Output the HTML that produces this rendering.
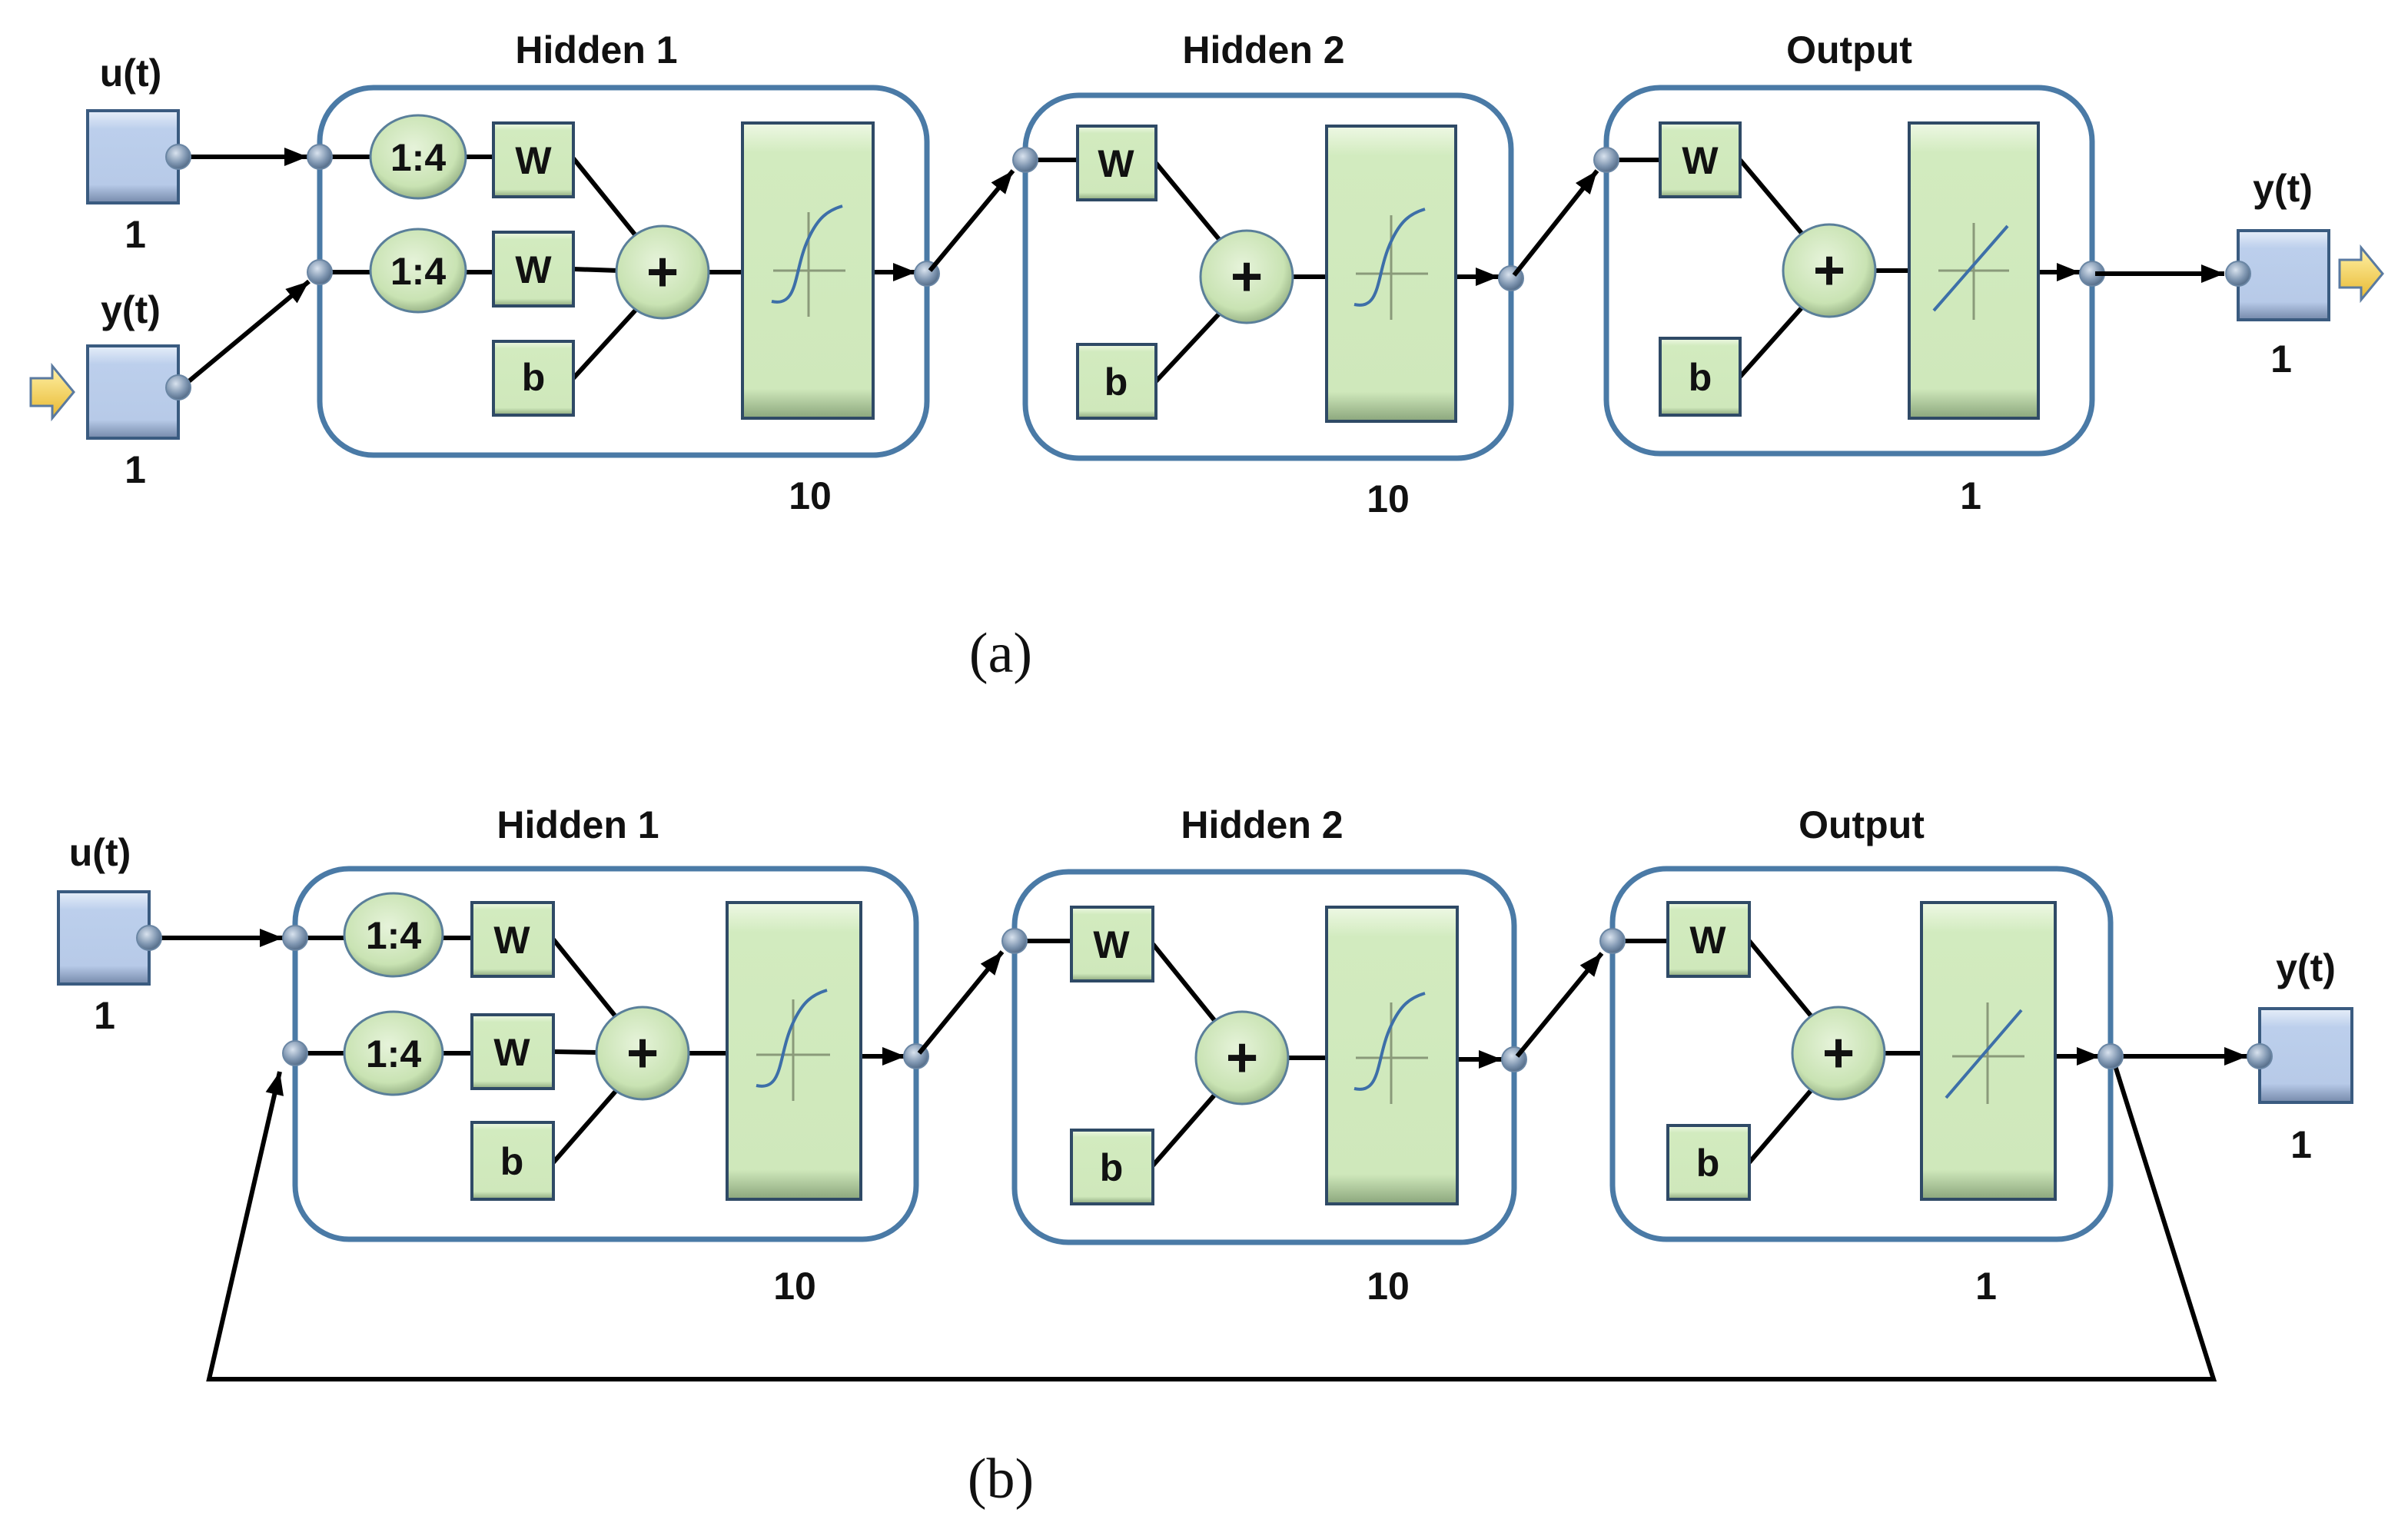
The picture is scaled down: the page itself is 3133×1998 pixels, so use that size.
<!DOCTYPE html>
<html><head><meta charset="utf-8"><style>
html,body{margin:0;padding:0;background:#fff;}
svg{display:block;}
text{font-family:"Liberation Sans",sans-serif;font-weight:bold;fill:#111;}
.lab{font-size:25px;text-anchor:middle;}
.in{font-size:25px;text-anchor:middle;}
.cap{font-family:"Liberation Serif",serif;font-weight:normal;font-size:37px;text-anchor:middle;}
.ln{stroke:#000;stroke-width:3;fill:none;}
.lnA{stroke:#000;stroke-width:3;fill:none;marker-end:url(#ar);}
.gb{fill:url(#gg);stroke:#2f4a66;stroke-width:2;}
.bb{fill:url(#bg);stroke:#3a5b80;stroke-width:2;}
.cont{fill:none;stroke:#4a7aa6;stroke-width:3.5;}
.dot{fill:url(#dg);stroke:#6a86a4;stroke-width:1;}
.ax{stroke:#8a9a7a;stroke-width:1.5;}
.cv{stroke:#3d6fa8;stroke-width:2;fill:none;}
</style></head><body>
<svg width="3133" height="1998" viewBox="0 0 1566.5 999" xmlns="http://www.w3.org/2000/svg">
<defs>
<linearGradient id="gg" x1="0" y1="0" x2="0" y2="1"><stop offset="0" stop-color="#eef8e4"/><stop offset="0.1" stop-color="#d2ebbf"/><stop offset="0.9" stop-color="#cfe8bb"/><stop offset="1" stop-color="#8ba67c"/></linearGradient>
<linearGradient id="bg" x1="0" y1="0" x2="0" y2="1"><stop offset="0" stop-color="#e6eef9"/><stop offset="0.2" stop-color="#bccfec"/><stop offset="0.8" stop-color="#b7cae8"/><stop offset="1" stop-color="#7589aa"/></linearGradient>
<radialGradient id="dg" cx="0.4" cy="0.35" r="0.7"><stop offset="0" stop-color="#d8e2ee"/><stop offset="0.6" stop-color="#7e95b0"/><stop offset="1" stop-color="#4c6480"/></radialGradient>
<radialGradient id="cg" cx="0.45" cy="0.4" r="0.65"><stop offset="0" stop-color="#e6f3da"/><stop offset="0.7" stop-color="#c9e3b3"/><stop offset="1" stop-color="#8aa57a"/></radialGradient>
<linearGradient id="yg" x1="0" y1="0" x2="0" y2="1"><stop offset="0" stop-color="#fff2a8"/><stop offset="1" stop-color="#e8b830"/></linearGradient>
<marker id="ar" markerWidth="5" markerHeight="4" refX="5" refY="2" orient="auto" markerUnits="strokeWidth"><path d="M0,0 L5,2 L0,4 Z" fill="#000"/></marker>
</defs>

<!-- ================= (a) ================= -->
<text class="lab" x="85" y="56">u(t)</text>
<rect class="bb" x="57" y="72" width="59" height="60"/>
<text class="in" x="88" y="161">1</text>
<text class="lab" x="85" y="210">y(t)</text>
<rect class="bb" x="57" y="225" width="59" height="60"/>
<text class="in" x="88" y="314">1</text>
<path d="M20,246 L34,246 L34,238 L48,255 L34,272 L34,264 L20,264 Z" fill="url(#yg)" stroke="#5a7aa0" stroke-width="1.5"/>
<line class="lnA" x1="116" y1="102" x2="200" y2="102"/>
<line class="lnA" x1="118" y1="252" x2="201" y2="183"/>
<circle class="dot" cx="116" cy="102" r="8"/>
<circle class="dot" cx="116" cy="252" r="8"/>

<text class="lab" x="388" y="41">Hidden 1</text>
<rect class="cont" x="208" y="57" width="395" height="239" rx="35"/>
<line class="ln" x1="208" y1="102" x2="321" y2="102"/>
<line class="ln" x1="208" y1="177" x2="321" y2="177"/>
<line class="ln" x1="373" y1="103" x2="415" y2="155"/>
<line class="ln" x1="373" y1="175" x2="431" y2="177"/>
<line class="ln" x1="373" y1="246" x2="415" y2="200"/>
<line class="ln" x1="431" y1="177" x2="483" y2="177"/>
<line class="lnA" x1="568" y1="177" x2="596" y2="177"/>
<ellipse cx="272" cy="102" rx="31" ry="27" fill="url(#cg)" stroke="#5a7f9a" stroke-width="1.5"/>
<ellipse cx="272" cy="176" rx="31" ry="27" fill="url(#cg)" stroke="#5a7f9a" stroke-width="1.5"/>
<text class="in" x="272" y="111">1:4</text><text class="in" x="272" y="185">1:4</text>
<rect class="gb" x="321" y="80" width="52" height="48"/><text class="in" x="347" y="113">W</text>
<rect class="gb" x="321" y="151" width="52" height="48"/><text class="in" x="347" y="184">W</text>
<rect class="gb" x="321" y="222" width="52" height="48"/><text class="in" x="347" y="254">b</text>
<circle cx="431" cy="177" r="30" fill="url(#cg)" stroke="#5a7f9a" stroke-width="1.5"/>
<text x="431" y="189" font-size="36" text-anchor="middle">+</text>
<rect class="gb" x="483" y="80" width="85" height="192"/>
<line class="ax" x1="503" y1="176" x2="550" y2="176"/><line class="ax" x1="526" y1="138" x2="526" y2="206"/>
<path class="cv" d="M502,196 C520,200 516,176 526,155 C532,142 538,137 548,134"/>
<circle class="dot" cx="208" cy="102" r="8"/><circle class="dot" cx="208" cy="177" r="8"/>
<circle class="dot" cx="603" cy="178" r="8"/>
<text class="in" x="527" y="331">10</text>

<line class="lnA" x1="605" y1="176" x2="659" y2="111"/>

<text class="lab" x="822" y="41">Hidden 2</text>
<rect class="cont" x="667" y="62" width="316" height="236" rx="35"/>
<line class="ln" x1="667" y1="104" x2="701" y2="104"/>
<line class="ln" x1="752" y1="106" x2="795" y2="158"/>
<line class="ln" x1="752" y1="248" x2="795" y2="202"/>
<line class="ln" x1="811" y1="180" x2="863" y2="180"/>
<line class="lnA" x1="947" y1="180" x2="975" y2="180"/>
<rect class="gb" x="701" y="82" width="51" height="48"/><text class="in" x="726" y="115">W</text>
<rect class="gb" x="701" y="224" width="51" height="48"/><text class="in" x="726" y="257">b</text>
<circle cx="811" cy="180" r="30" fill="url(#cg)" stroke="#5a7f9a" stroke-width="1.5"/>
<text x="811" y="192" font-size="36" text-anchor="middle">+</text>
<rect class="gb" x="863" y="82" width="84" height="192"/>
<line class="ax" x1="882" y1="178" x2="929" y2="178"/><line class="ax" x1="905" y1="140" x2="905" y2="208"/>
<path class="cv" d="M881,198 C899,202 895,178 905,157 C911,144 917,139 927,136"/>
<circle class="dot" cx="667" cy="104" r="8"/><circle class="dot" cx="983" cy="181" r="8"/>
<text class="in" x="903" y="333">10</text>

<line class="lnA" x1="985" y1="179" x2="1039" y2="111"/>

<text class="lab" x="1203" y="41">Output</text>
<rect class="cont" x="1045" y="57" width="316" height="238" rx="35"/>
<line class="ln" x1="1045" y1="104" x2="1080" y2="104"/>
<line class="ln" x1="1132" y1="104" x2="1174" y2="154"/>
<line class="ln" x1="1132" y1="245" x2="1174" y2="198"/>
<line class="ln" x1="1190" y1="176" x2="1242" y2="176"/>
<line class="lnA" x1="1326" y1="177" x2="1353" y2="177"/>
<rect class="gb" x="1080" y="80" width="52" height="48"/><text class="in" x="1106" y="113">W</text>
<rect class="gb" x="1080" y="220" width="52" height="50"/><text class="in" x="1106" y="254">b</text>
<circle cx="1190" cy="176" r="30" fill="url(#cg)" stroke="#5a7f9a" stroke-width="1.5"/>
<text x="1190" y="188" font-size="36" text-anchor="middle">+</text>
<rect class="gb" x="1242" y="80" width="84" height="192"/>
<line class="ax" x1="1261" y1="176" x2="1307" y2="176"/><line class="ax" x1="1284" y1="145" x2="1284" y2="208"/>
<line class="cv" x1="1258" y1="202" x2="1306" y2="147"/>
<circle class="dot" cx="1045" cy="104" r="8"/><circle class="dot" cx="1361" cy="178" r="8"/>
<text class="in" x="1282" y="331">1</text>

<line class="lnA" x1="1363" y1="178" x2="1447" y2="178"/>
<text class="lab" x="1485" y="131">y(t)</text>
<rect class="bb" x="1456" y="150" width="59" height="58"/>
<circle class="dot" cx="1456" cy="178" r="8"/>
<text class="in" x="1484" y="242">1</text>
<path d="M1522,169 L1536,169 L1536,161 L1550,178 L1536,195 L1536,187 L1522,187 Z" fill="url(#yg)" stroke="#5a7aa0" stroke-width="1.5"/>

<text class="cap" x="651" y="437">(a)</text>

<!-- ================= (b) ================= -->
<text class="lab" x="65" y="563">u(t)</text>
<rect class="bb" x="38" y="580" width="59" height="60"/>
<text class="in" x="68" y="669">1</text>
<line class="lnA" x1="97" y1="610" x2="184" y2="610"/>
<circle class="dot" cx="97" cy="610" r="8"/>

<text class="lab" x="376" y="545">Hidden 1</text>
<rect class="cont" x="192" y="565" width="404" height="241" rx="35"/>
<line class="ln" x1="192" y1="610" x2="307" y2="610"/>
<line class="ln" x1="192" y1="685" x2="307" y2="685"/>
<line class="ln" x1="360" y1="611" x2="402" y2="663"/>
<line class="ln" x1="360" y1="684" x2="418" y2="685"/>
<line class="ln" x1="360" y1="756" x2="402" y2="708"/>
<line class="ln" x1="418" y1="685" x2="473" y2="685"/>
<line class="lnA" x1="560" y1="687" x2="589" y2="687"/>
<ellipse cx="256" cy="608" rx="32" ry="27" fill="url(#cg)" stroke="#5a7f9a" stroke-width="1.5"/>
<ellipse cx="256" cy="685" rx="32" ry="27" fill="url(#cg)" stroke="#5a7f9a" stroke-width="1.5"/>
<text class="in" x="256" y="617">1:4</text><text class="in" x="256" y="694">1:4</text>
<rect class="gb" x="307" y="587" width="53" height="48"/><text class="in" x="333" y="620">W</text>
<rect class="gb" x="307" y="660" width="53" height="48"/><text class="in" x="333" y="693">W</text>
<rect class="gb" x="307" y="730" width="53" height="50"/><text class="in" x="333" y="764">b</text>
<circle cx="418" cy="685" r="30" fill="url(#cg)" stroke="#5a7f9a" stroke-width="1.5"/>
<text x="418" y="697" font-size="36" text-anchor="middle">+</text>
<rect class="gb" x="473" y="587" width="87" height="193"/>
<line class="ax" x1="492" y1="686" x2="540" y2="686"/><line class="ax" x1="516" y1="650" x2="516" y2="716"/>
<path class="cv" d="M492,706 C510,710 506,686 516,665 C522,652 528,647 538,644"/>
<circle class="dot" cx="192" cy="610" r="8"/><circle class="dot" cx="192" cy="685" r="8"/>
<circle class="dot" cx="596" cy="687" r="8"/>
<text class="in" x="517" y="845">10</text>

<line class="lnA" x1="598" y1="685" x2="652" y2="619"/>

<text class="lab" x="821" y="545">Hidden 2</text>
<rect class="cont" x="660" y="567" width="325" height="241" rx="35"/>
<line class="ln" x1="660" y1="612" x2="697" y2="612"/>
<line class="ln" x1="750" y1="614" x2="792" y2="666"/>
<line class="ln" x1="750" y1="758" x2="792" y2="710"/>
<line class="ln" x1="808" y1="688" x2="863" y2="688"/>
<line class="lnA" x1="948" y1="689" x2="977" y2="689"/>
<rect class="gb" x="697" y="590" width="53" height="48"/><text class="in" x="723" y="623">W</text>
<rect class="gb" x="697" y="735" width="53" height="48"/><text class="in" x="723" y="768">b</text>
<circle cx="808" cy="688" r="30" fill="url(#cg)" stroke="#5a7f9a" stroke-width="1.5"/>
<text x="808" y="700" font-size="36" text-anchor="middle">+</text>
<rect class="gb" x="863" y="590" width="85" height="193"/>
<line class="ax" x1="882" y1="688" x2="929" y2="688"/><line class="ax" x1="905" y1="652" x2="905" y2="718"/>
<path class="cv" d="M881,708 C899,712 895,688 905,667 C911,654 917,649 927,646"/>
<circle class="dot" cx="660" cy="612" r="8"/><circle class="dot" cx="985" cy="689" r="8"/>
<text class="in" x="903" y="845">10</text>

<line class="lnA" x1="987" y1="687" x2="1042" y2="620"/>

<text class="lab" x="1211" y="545">Output</text>
<rect class="cont" x="1049" y="565" width="324" height="241" rx="35"/>
<line class="ln" x1="1049" y1="612" x2="1085" y2="612"/>
<line class="ln" x1="1138" y1="612" x2="1180" y2="663"/>
<line class="ln" x1="1138" y1="756" x2="1180" y2="707"/>
<line class="ln" x1="1196" y1="685" x2="1250" y2="685"/>
<line class="lnA" x1="1337" y1="687" x2="1366" y2="687"/>
<rect class="gb" x="1085" y="587" width="53" height="48"/><text class="in" x="1111" y="620">W</text>
<rect class="gb" x="1085" y="732" width="53" height="48"/><text class="in" x="1111" y="765">b</text>
<circle cx="1196" cy="685" r="30" fill="url(#cg)" stroke="#5a7f9a" stroke-width="1.5"/>
<text x="1196" y="697" font-size="36" text-anchor="middle">+</text>
<rect class="gb" x="1250" y="587" width="87" height="193"/>
<line class="ax" x1="1270" y1="687" x2="1317" y2="687"/><line class="ax" x1="1293" y1="652" x2="1293" y2="718"/>
<line class="cv" x1="1266" y1="714" x2="1315" y2="657"/>
<circle class="dot" cx="1049" cy="612" r="8"/>
<text class="in" x="1292" y="845">1</text>

<line class="lnA" x1="1375" y1="687" x2="1462" y2="687"/>
<text class="lab" x="1500" y="638">y(t)</text>
<rect class="bb" x="1470" y="656" width="60" height="61"/>
<circle class="dot" cx="1470" cy="687" r="8"/>
<text class="in" x="1497" y="753">1</text>

<path class="lnA" d="M1375,690 L1440,897 L136,897 L182,697" stroke-linejoin="miter"/>
<circle class="dot" cx="1373" cy="687" r="8"/>

<text class="cap" x="651" y="974">(b)</text>
</svg>
</body></html>
